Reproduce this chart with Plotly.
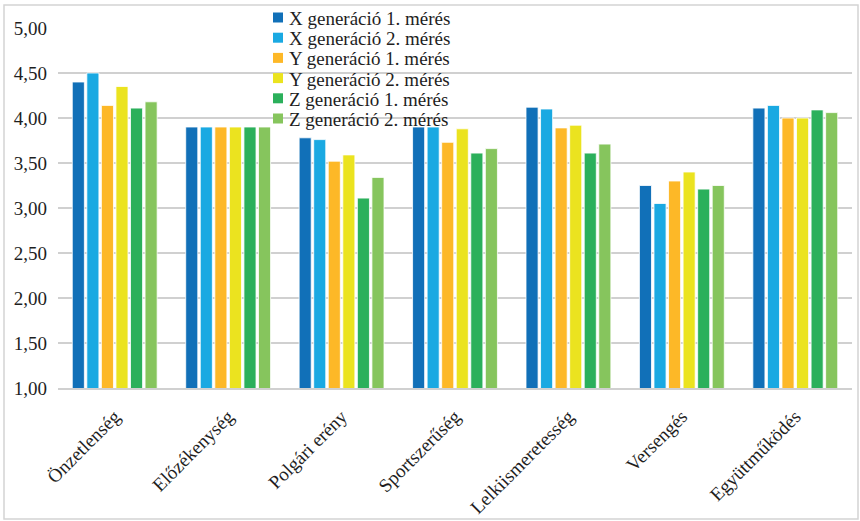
import plotly.graph_objects as go

categories = ["Önzetlenség", "Előzékenység", "Polgári erény", "Sportszerűség",
              "Lelkiismeretesség", "Versengés", "Együttműködés"]
series_names = ["X generáció 1. mérés", "X generáció 2. mérés",
                "Y generáció 1. mérés", "Y generáció 2. mérés",
                "Z generáció 1. mérés", "Z generáció 2. mérés"]
x1 = [4.40, 3.90, 3.78, 3.90, 4.12, 3.25, 4.11]
x2 = [4.50, 3.90, 3.76, 3.90, 4.10, 3.05, 4.14]
y1 = [4.14, 3.90, 3.52, 3.73, 3.89, 3.30, 4.00]
y2 = [4.35, 3.90, 3.59, 3.88, 3.92, 3.40, 4.00]
z1 = [4.11, 3.90, 3.11, 3.61, 3.61, 3.21, 4.09]
z2 = [4.18, 3.90, 3.34, 3.66, 3.71, 3.25, 4.06]
colors = ["#1170b8", "#1aa9e2", "#fdb827", "#ebe31f", "#2bb05b", "#86c55d"]

FONT = "Liberation Serif"
TXT = "#1e1e1e"
W, H = 860, 521
ml, mr, mt, mb = 58, 8, 28, 133
pw, ph = W - ml - mr, H - mt - mb


def px_x(p):
    return (p - ml) / pw


def px_y(p):
    return (H - mb - p) / ph


fig = go.Figure()
for name, vals, col in zip(series_names, [x1, x2, y1, y2, z1, z2], colors):
    fig.add_trace(go.Bar(x=categories, y=vals, name=name, base=0, showlegend=False,
                         marker=dict(color=col, line=dict(color="white", width=0.8))))

fig.update_layout(
    width=W, height=H,
    margin=dict(l=ml, r=mr, t=mt, b=mb),
    paper_bgcolor="white", plot_bgcolor="white",
    separators=", ",
    barmode="group", bargap=0.23, bargroupgap=0.17,
    font=dict(family=FONT, color=TXT),
    showlegend=False,
)
fig.update_yaxes(range=[1, 5], dtick=0.5, tick0=1, tickformat=".2f",
                 showgrid=True, gridcolor="#d0d0d0", gridwidth=2,
                 zeroline=False, showline=False, ticks="", ticklabelstandoff=10,
                 tickfont=dict(family=FONT, size=19, color=TXT))
fig.update_xaxes(tickangle=-45, showline=True, linecolor="#d0d0d0", linewidth=2,
                 ticks="", automargin=False, ticklabelstandoff=8,
                 tickfont=dict(family=FONT, size=19, color=TXT))

# outer chart border
fig.add_shape(type="rect", xref="paper", yref="paper",
              x0=px_x(4), x1=px_x(858), y0=px_y(519), y1=px_y(5),
              line=dict(color="#d4d4d4", width=1.5), fillcolor="rgba(0,0,0,0)", layer="below")

# legend box (white, hides gridlines) and entries
fig.add_shape(type="rect", xref="paper", yref="paper",
              x0=px_x(182), x1=px_x(534), y0=px_y(108), y1=px_y(6),
              line=dict(width=0), fillcolor="white", layer="between")
row0, step = 17.5, 20.2
for i, (name, col) in enumerate(zip(series_names, colors)):
    cy = row0 + i * step
    fig.add_shape(type="rect", xref="paper", yref="paper",
                  x0=px_x(273), x1=px_x(283), y0=px_y(cy + 5), y1=px_y(cy - 5),
                  line=dict(width=0), fillcolor=col, layer="above")
    fig.add_annotation(xref="paper", yref="paper", x=px_x(287), y=px_y(cy + 1),
                       text=name, showarrow=False, xanchor="left", yanchor="middle",
                       font=dict(family=FONT, size=19, color=TXT))

fig.write_html("out.html", config={"displayModeBar": False},
               post_script="document.body.style.margin='0';")
